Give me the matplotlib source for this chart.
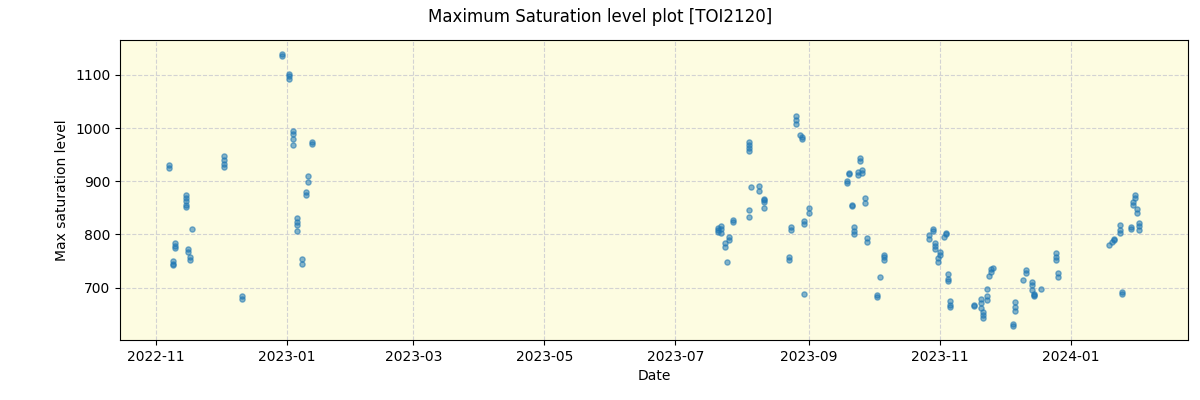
import matplotlib
matplotlib.use("Agg")
import matplotlib.pyplot as plt
import matplotlib.dates as mdates
import pandas as pd

title = "Maximum Saturation level plot [TOI2120]"
x_label = "Date"
y_label = "Max saturation level"

dates = [
    "2022-11-07", "2022-11-07",
    "2022-11-09", "2022-11-09", "2022-11-09",
    "2022-11-10", "2022-11-10", "2022-11-10",
    "2022-11-15", "2022-11-15", "2022-11-15", "2022-11-15", "2022-11-15",
    "2022-11-16", "2022-11-16",
    "2022-11-17", "2022-11-17",
    "2022-11-18",
    "2022-12-03", "2022-12-03", "2022-12-03", "2022-12-03",
    "2022-12-11", "2022-12-11",
    "2022-12-30", "2022-12-30",
    "2023-01-02", "2023-01-02", "2023-01-02",
    "2023-01-04", "2023-01-04", "2023-01-04", "2023-01-04",
    "2023-01-06", "2023-01-06", "2023-01-06", "2023-01-06",
    "2023-01-08", "2023-01-08",
    "2023-01-10", "2023-01-10",
    "2023-01-11", "2023-01-11",
    "2023-01-13", "2023-01-13",
    "2023-07-21", "2023-07-21", "2023-07-21", "2023-07-22", "2023-07-22", "2023-07-22",
    "2023-07-24", "2023-07-24",
    "2023-07-25",
    "2023-07-26", "2023-07-26",
    "2023-07-28", "2023-07-28",
    "2023-08-04", "2023-08-04", "2023-08-04", "2023-08-04",
    "2023-08-04", "2023-08-04",
    "2023-08-05",
    "2023-08-09", "2023-08-09",
    "2023-08-11", "2023-08-11", "2023-08-11", "2023-08-11",
    "2023-08-23", "2023-08-23",
    "2023-08-24", "2023-08-24",
    "2023-08-26", "2023-08-26", "2023-08-26",
    "2023-08-28", "2023-08-29", "2023-08-29",
    "2023-08-30", "2023-08-30", "2023-08-30",
    "2023-09-01", "2023-09-01",
    "2023-09-19", "2023-09-19", "2023-09-20", "2023-09-20",
    "2023-09-21", "2023-09-21",
    "2023-09-22", "2023-09-22", "2023-09-22",
    "2023-09-24", "2023-09-24",
    "2023-09-25", "2023-09-25",
    "2023-09-26", "2023-09-26",
    "2023-09-27", "2023-09-27",
    "2023-09-28", "2023-09-28",
    "2023-10-03", "2023-10-03",
    "2023-10-04",
    "2023-10-06", "2023-10-06", "2023-10-06",
    "2023-10-27", "2023-10-27",
    "2023-10-29", "2023-10-29",
    "2023-10-30", "2023-10-30", "2023-10-30",
    "2023-10-31", "2023-10-31", "2023-11-01", "2023-11-01",
    "2023-11-03", "2023-11-04", "2023-11-04",
    "2023-11-05", "2023-11-05", "2023-11-05",
    "2023-11-06", "2023-11-06", "2023-11-06",
    "2023-11-17", "2023-11-17",
    "2023-11-20", "2023-11-20", "2023-11-20",
    "2023-11-21", "2023-11-21", "2023-11-21",
    "2023-11-23", "2023-11-23", "2023-11-23",
    "2023-11-24", "2023-11-25", "2023-11-25", "2023-11-26",
    "2023-12-05", "2023-12-05",
    "2023-12-06", "2023-12-06", "2023-12-06",
    "2023-12-10", "2023-12-11", "2023-12-11",
    "2023-12-14", "2023-12-14", "2023-12-14", "2023-12-15", "2023-12-15", "2023-12-15",
    "2023-12-18",
    "2023-12-25", "2023-12-25", "2023-12-25",
    "2023-12-26", "2023-12-26",
    "2024-01-19", "2024-01-20", "2024-01-21", "2024-01-21",
    "2024-01-24", "2024-01-24", "2024-01-24",
    "2024-01-25", "2024-01-25",
    "2024-01-29", "2024-01-29",
    "2024-01-30", "2024-01-30",
    "2024-01-31", "2024-01-31",
    "2024-02-01", "2024-02-01",
    "2024-02-02", "2024-02-02", "2024-02-02",
]

values = [
    931, 925,
    750, 745, 742,
    783, 778, 774,
    875, 868, 862, 856, 851,
    772, 766,
    757, 752,
    810,
    947, 940, 933, 926,
    685, 679,
    1140, 1136,
    1102, 1097, 1092,
    994, 989, 980, 968,
    830, 823, 817, 807,
    753, 744,
    880, 875,
    910, 899,
    974, 970,
    812, 808, 805, 815, 810, 803,
    783, 777,
    748,
    796, 789,
    828, 823,
    974, 968, 962, 957,
    845, 832,
    890,
    891, 881,
    864, 867, 860, 850,
    758, 752,
    814, 808,
    1022, 1015, 1008,
    987, 983, 979,
    826, 819, 687,
    849, 840,
    900, 897, 916, 913,
    856, 853,
    814, 806, 800,
    917, 912,
    944, 938,
    922, 915,
    868, 859,
    793, 786,
    686, 683,
    720,
    762, 757, 751,
    798, 792,
    810, 806,
    784, 778, 772,
    755, 748, 762, 766,
    796, 800, 803,
    726, 717, 712,
    663, 667, 674,
    667, 665,
    678, 671, 662,
    654, 648, 642,
    698, 684, 677,
    721, 729, 734, 737,
    632, 627,
    672, 664, 655,
    715, 733, 727,
    711, 704, 695, 686, 688, 685,
    698,
    765, 758, 751,
    727, 720,
    780, 786, 791, 789,
    817, 809, 802,
    692, 687,
    814, 811,
    861, 855,
    874, 869,
    848, 841,
    821, 815, 809,
]

df = pd.DataFrame({"date": pd.to_datetime(dates), "value": values})

fig, ax = plt.subplots(figsize=(12, 4), dpi=100)
ax.set_facecolor("#fdfce1")
ax.scatter(df["date"], df["value"], s=14, alpha=0.55, color="tab:blue", zorder=3)
ax.grid(True, linestyle="--", color="lightgray", zorder=0)
ax.set_axisbelow(True)
ax.set_xlabel(x_label)
ax.set_ylabel(y_label)
ax.xaxis.set_major_locator(mdates.MonthLocator(bymonth=[1, 3, 5, 7, 9, 11]))
ax.xaxis.set_major_formatter(mdates.DateFormatter("%Y-%m"))
ax.set_yticks([700, 800, 900, 1000, 1100])
fig.suptitle(title)
fig.subplots_adjust(left=0.1, right=0.99, top=0.9, bottom=0.15)
fig.savefig("out.png")
